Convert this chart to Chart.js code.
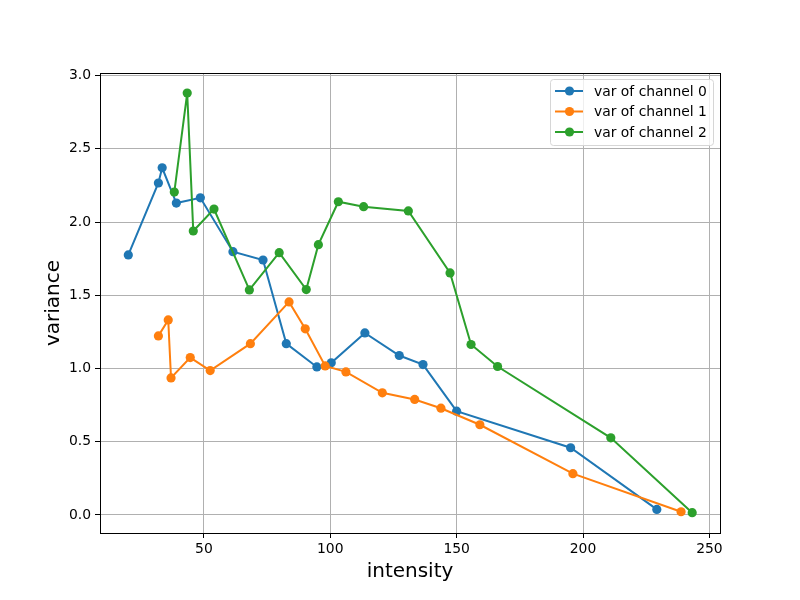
<!DOCTYPE html>
<html>
<head>
<meta charset="utf-8">
<script src="https://cdn.jsdelivr.net/npm/chart.js@4/dist/chart.umd.min.js"></script>
<style>
  html, body { margin: 0; padding: 0; background: #fff; }
  #wrap { width: 800px; height: 600px; position: relative; }
</style>
</head>
<body>
<div id="wrap"><canvas id="c" width="800" height="600"></canvas></div>
<script>
const seriesNames = ["var of channel 0", "var of channel 1", "var of channel 2"];
const seriesColors = ["#1f77b4", "#ff7f0e", "#2ca02c"];

const ch0X = [20.1, 32.0, 33.5, 39.1, 48.6, 61.5, 73.4, 82.6, 94.7, 100.4, 113.7, 127.3, 136.7, 150.0, 195.1, 229.2];
const ch0Y = [1.776, 2.267, 2.371, 2.130, 2.166, 1.798, 1.741, 1.170, 1.011, 1.039, 1.243, 1.089, 1.027, 0.709, 0.459, 0.038];

const ch1X = [32.0, 35.9, 37.0, 44.6, 52.5, 68.4, 83.7, 90.1, 98.0, 106.2, 120.6, 133.4, 143.8, 159.2, 196.0, 238.8];
const ch1Y = [1.223, 1.332, 0.936, 1.075, 0.986, 1.170, 1.455, 1.271, 1.018, 0.977, 0.834, 0.789, 0.729, 0.616, 0.282, 0.022];

const ch2X = [38.3, 43.4, 45.8, 54.0, 68.0, 79.8, 90.5, 95.3, 103.2, 113.2, 130.9, 147.4, 155.7, 166.2, 211.0, 243.2];
const ch2Y = [2.205, 2.881, 1.939, 2.089, 1.537, 1.791, 1.539, 1.846, 2.139, 2.105, 2.076, 1.653, 1.164, 1.014, 0.527, 0.016];

const xTicks = [50, 100, 150, 200, 250];
const yTicks = [0.0, 0.5, 1.0, 1.5, 2.0, 2.5, 3.0];

const xsAll = [ch0X, ch1X, ch2X];
const ysAll = [ch0Y, ch1Y, ch2Y];

function toPoints(xs, ys) { return xs.map((x, i) => ({ x: x, y: ys[i] })); }

const FONT = "'DejaVu Sans', sans-serif";

const datasets = seriesNames.map((name, i) => ({
  label: name,
  data: toPoints(xsAll[i], ysAll[i]),
  showLine: true,
  borderColor: seriesColors[i],
  backgroundColor: seriesColors[i],
  borderWidth: 2,
  pointRadius: 4.6,
  pointHoverRadius: 4.6,
  pointBorderWidth: 0,
  pointBackgroundColor: seriesColors[i],
  tension: 0,
  order: 3 - i
}));

const frame = {
  id: 'frame',
  afterDatasetsDraw(chart) {
    const ctx = chart.ctx, a = chart.chartArea;
    ctx.save();
    ctx.strokeStyle = '#000';
    ctx.lineWidth = 1;
    ctx.strokeRect(Math.round(a.left) + 0.5, Math.round(a.top) + 0.5,
                   Math.round(a.right - a.left), Math.round(a.bottom - a.top));
    // legend
    const bx = 550.5, by = 79.5, bw = 163, bh = 66;
    ctx.fillStyle = 'rgba(255,255,255,0.8)';
    ctx.strokeStyle = '#d6d6d6';
    ctx.lineWidth = 1;
    const r = 3;
    ctx.beginPath();
    ctx.moveTo(bx + r, by);
    ctx.lineTo(bx + bw - r, by); ctx.quadraticCurveTo(bx + bw, by, bx + bw, by + r);
    ctx.lineTo(bx + bw, by + bh - r); ctx.quadraticCurveTo(bx + bw, by + bh, bx + bw - r, by + bh);
    ctx.lineTo(bx + r, by + bh); ctx.quadraticCurveTo(bx, by + bh, bx, by + bh - r);
    ctx.lineTo(bx, by + r); ctx.quadraticCurveTo(bx, by, bx + r, by);
    ctx.closePath();
    ctx.fill(); ctx.stroke();
    const rows = [91, 111.5, 132];
    ctx.font = "13.9px " + FONT;
    ctx.textBaseline = 'middle';
    ctx.textAlign = 'left';
    seriesNames.forEach((name, i) => {
      const yy = rows[i];
      ctx.strokeStyle = seriesColors[i];
      ctx.lineWidth = 2;
      ctx.beginPath(); ctx.moveTo(555, yy); ctx.lineTo(583, yy); ctx.stroke();
      ctx.fillStyle = seriesColors[i];
      ctx.beginPath(); ctx.arc(569.5, yy, 4.6, 0, Math.PI * 2); ctx.fill();
      ctx.fillStyle = '#000';
      ctx.fillText(name, 594, yy + 1);
    });
    ctx.restore();
  }
};

new Chart(document.getElementById('c'), {
  type: 'scatter',
  data: { datasets: datasets },
  options: {
    responsive: false,
    animation: false,
    layout: { padding: { left: 38, right: 80, top: 73, bottom: 12 } },
    plugins: { legend: { display: false }, tooltip: { enabled: false } },
    scales: {
      x: {
        type: 'linear',
        min: 8.9, max: 254.2,
        afterBuildTicks: (s) => { s.ticks = xTicks.map(v => ({ value: v })); },
        afterFit: (s) => { s.height = 55; },
        ticks: { font: { family: FONT, size: 13.9 }, color: '#000', padding: 3, maxRotation: 0,
                 callback: (v) => String(v) },
        grid: { color: '#b0b0b0', lineWidth: 1, tickColor: '#000', tickLength: 5, drawTicks: true },
        border: { display: false },
        title: { display: true, text: 'intensity', color: '#000', font: { family: FONT, size: 20 }, padding: { top: 4, bottom: 4 } }
      },
      y: {
        type: 'linear',
        min: -0.123, max: 3.018,
        afterBuildTicks: (s) => { s.ticks = yTicks.map(v => ({ value: v })); },
        afterFit: (s) => { s.width = 62; },
        ticks: { font: { family: FONT, size: 13.9 }, color: '#000', padding: 4,
                 callback: (v) => Number(v).toFixed(1) },
        grid: { color: '#b0b0b0', lineWidth: 1, tickColor: '#000', tickLength: 5, drawTicks: true },
        border: { display: false },
        title: { display: true, text: 'variance', color: '#000', font: { family: FONT, size: 20 }, padding: { top: 4, bottom: 4 } }
      }
    }
  },
  plugins: [frame]
});
</script>
</body>
</html>
